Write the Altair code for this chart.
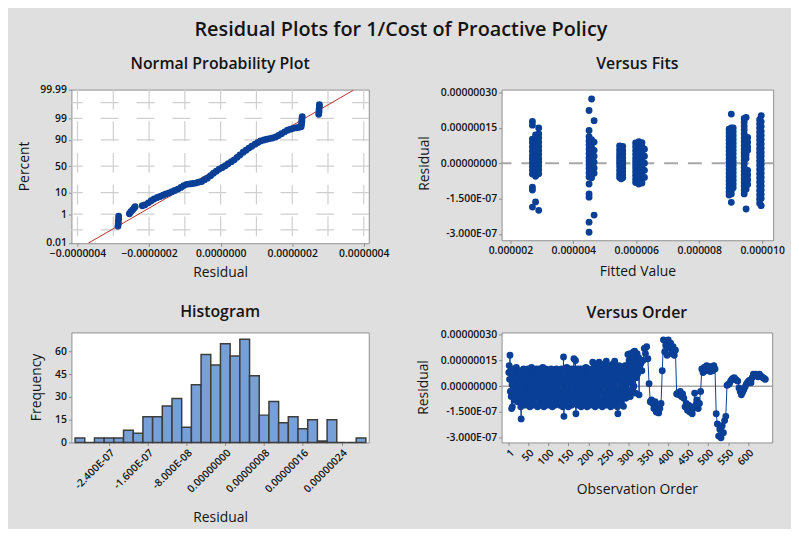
import altair as alt
import pandas as pd
from statistics import NormalDist

UNIT = 1e-7      # residuals are read in units of 1e-7
FIT_UNIT = 1e-6  # fitted values are read in units of 1e-6

BLUE = "#0a3f96"
RED = "#b8322a"
GRID = "#cfcfcf"
BG = "#dfdfdf"
FONT = "Open Sans"
TXT = "#141414"

# ---------------- Normal probability plot ----------------
npp_residual = [
    -2.87, -2.86, -2.86, -2.85, -2.85,
    -2.55, -2.51, -2.46, -2.42, -2.39,
    -2.19, -2.12,
    -2.02, -1.94, -1.86, -1.77, -1.69, -1.61, -1.53, -1.44, -1.36, -1.28,
    -1.19, -1.11, -1.03, -0.95, -0.86, -0.78, -0.70, -0.62, -0.53, -0.45,
    -0.37, -0.28, -0.20, -0.12, -0.04, 0.05, 0.13, 0.21, 0.30, 0.38,
    0.46, 0.54, 0.63, 0.71, 0.79, 0.87, 0.96, 1.04, 1.12, 1.21,
    1.29, 1.37, 1.45, 1.54, 1.62, 1.70, 1.79, 1.87, 1.95, 2.03,
    2.12, 2.20,
    2.25, 2.26, 2.27, 2.27, 2.28,
    2.74, 2.75, 2.75, 2.76, 2.76]
npp_score = [
    -2.91, -2.79, -2.67, -2.55, -2.43,
    -2.31, -2.21, -2.12, -2.04, -1.97,
    -1.92, -1.88,
    -1.78, -1.68, -1.59, -1.52, -1.47, -1.41, -1.35, -1.30, -1.24, -1.18,
    -1.11, -1.03, -0.94, -0.88, -0.86, -0.84, -0.82, -0.78, -0.74, -0.66,
    -0.58, -0.46, -0.34, -0.24, -0.14, -0.06, 0.02, 0.12, 0.22, 0.31,
    0.43, 0.55, 0.68, 0.78, 0.88, 0.97, 1.07, 1.15, 1.23, 1.27,
    1.31, 1.34, 1.37, 1.42, 1.49, 1.58, 1.67, 1.75, 1.80, 1.84,
    1.87, 1.89,
    1.92, 2.04, 2.16, 2.28, 2.40,
    2.52, 2.64, 2.76, 2.89, 2.99]
npp_fit_residual = [-3.697, 3.708]
npp_fit_score = [-3.736, 3.688]
npp_pct_ticks = [0.01, 1, 10, 50, 90, 99, 99.99]
npp_pct_labels = ["0.01", "1", "10", "50", "90", "99", "99.99"]
npp_pct_grid = [0.1, 1, 10, 50, 90, 99, 99.9]
npp_res_ticks = [-4, -2, 0, 2, 4]
npp_res_grid = [-4, -3, -2, -1, 0, 1, 2, 3, 4]

# ---------------- Versus fits ----------------
vf_fit_columns = [2.70, 2.80, 2.90,
                  4.50, 4.58, 4.66,
                  5.47, 5.52, 5.57,
                  5.98, 6.08, 6.18, 6.26,
                  8.95, 9.02, 9.08,
                  9.43, 9.49, 9.54,
                  9.92, 9.97]
vf_res_columns = [
    [1.78, 1.62, 1.02, 0.88, 0.70, 0.52, 0.34, 0.18, 0.02, -0.14, -0.30, -0.46, -1.02, -1.14, -1.86],
    [1.20, 0.95, 0.78, 0.60, 0.42, 0.25, 0.08, -0.08, -0.24, -0.40, -0.55, -1.64],
    [1.50, 1.25, 1.08, 0.90, 0.72, 0.55, 0.38, 0.20, 0.05, -0.10, -0.28, -0.45, -2.00],
    [2.24, 1.39, 1.13, 0.95, 0.78, 0.60, 0.42, 0.24, 0.10, -0.06, -0.22, -0.40, -0.58, -0.88, -1.30, -1.44, -2.50, -2.93],
    [2.73, 1.00, 0.85, 0.66, 0.50, 0.33, 0.17, 0.00, -0.15, -0.30, -0.48, -0.62],
    [1.81, 0.90, 0.55, 0.30, 0.05, -0.20, -0.42, -2.20],
    [0.74, 0.58, 0.42, 0.28, 0.14, 0.00, -0.14, -0.30, -0.46, -0.60],
    [0.70, 0.52, 0.36, 0.20, 0.06, -0.08, -0.22, -0.38, -0.52, -0.66],
    [0.72, 0.55, 0.40, 0.24, 0.10, -0.04, -0.20, -0.35, -0.50, -0.62],
    [0.86, 0.70, 0.54, 0.38, 0.22, 0.08, -0.06, -0.20, -0.36, -0.52, -0.68, -0.82],
    [0.92, 0.75, 0.60, 0.44, 0.28, 0.12, -0.02, -0.16, -0.32, -0.48, -0.64, -0.80, -0.88],
    [0.88, 0.72, 0.56, 0.40, 0.25, 0.10, -0.05, -0.20, -0.36, -0.50, -0.66, -0.84],
    [0.60, 0.30, 0.00, -0.30, -0.60],
    [1.45, 1.30, 1.15, 1.00, 0.84, 0.68, 0.52, 0.36, 0.20, 0.05, -0.10, -0.26, -0.42, -0.58, -0.74, -0.90, -1.05, -1.20, -1.35],
    [2.09, 1.50, 1.36, 1.20, 1.05, 0.90, 0.74, 0.58, 0.42, 0.27, 0.12, -0.04, -0.20, -0.36, -0.52, -0.68, -0.84, -1.00, -1.15, -1.30, -1.66],
    [1.50, 1.34, 1.18, 1.02, 0.86, 0.70, 0.55, 0.40, 0.24, 0.08, -0.08, -0.24, -0.40, -0.56, -0.72, -0.88, -1.04],
    [1.90, 1.74, 1.58, 1.42, 1.25, 1.08, 0.92, 0.76, 0.60, 0.45, 0.30, 0.14, -0.02, -0.18, -0.34, -0.50, -0.66, -0.82, -0.98, -1.14, -1.30],
    [1.95, 1.00, 0.84, 0.68, 0.52, 0.36, 0.20, -0.30, -0.46, -0.62, -0.78, -0.94, -1.10, -1.94],
    [1.10, 0.90, 0.70, 0.55, -0.30, -0.50, -0.70, -0.90],
    [1.85, 1.68, 1.50, 1.32, 1.15, 0.98, 0.80, 0.62, 0.45, 0.28, 0.10, -0.08, -0.26, -0.44, -0.62, -0.80, -0.98, -1.16, -1.34, -1.52, -1.70],
    [2.02, 1.76, 1.56, 1.36, 1.18, 1.00, 0.82, 0.64, 0.46, 0.30, 0.12, -0.06, -0.24, -0.42, -0.60, -0.78, -0.96, -1.14, -1.32, -1.50, -1.80],
]
vf_fit_ticks = [2, 4, 6, 8, 10]

# ---------------- Histogram ----------------
hist_counts = [3, 0, 3, 3, 3, 8, 6, 17, 17, 24, 29, 10, 38, 58, 51,
               65, 57, 68, 44, 18, 27, 13, 17, 9, 15, 1, 15, 0, 0, 3]
hist_first_center = -3.0e-7
hist_bin_width = 2.0e-8
hist_ticks = [-2.4e-7, -1.6e-7, -8e-8, 0.0, 8e-8, 1.6e-7, 2.4e-7]
hist_tick_labels = ["-2.400E-07", "-1.600E-07", "-8.000E-08", "0.00000000",
                    "0.00000008", "0.00000016", "0.00000024"]
hist_freq_ticks = [0, 15, 30, 45, 60]

# ---------------- Versus order ----------------
# observations 1..330, one value each
vo_dense_residual = [
    0.8, 1.2, 0.4, 1.8, -0.3, 0.9, -0.6, -1.3, 0.1, -1.2,
    0.6, -0.4, 1.0, 0.2, -0.8, 0.7, -0.1, 0.4, -0.6, 1.1,
    -0.2, 0.5, -0.9, 0.8, 0.0, -0.5, 0.9, 0.3, -0.7, 0.6,
    -1.2, -1.9, -0.3, 0.4, -1.0, 0.7, -0.5, 1.0, 0.1, -0.8,
    0.5, -1.1, 0.9, -0.2, 0.3, -0.9, 0.7, -0.4, 1.0, -1.0,
    0.2, -0.6, 0.8, -1.2, 0.5, 0.0, -0.8, 1.1, -0.3, 0.6,
    -1.0, 0.4, -0.5, 0.9, -0.1, -1.1, 0.7, 0.2, -0.7, 1.0,
    -0.4, 0.5, -1.2, 0.8, 0.1, -0.6, 1.0, -0.9, 0.3, -0.2,
    0.9, -1.1, 0.6, -0.5, 0.0, 1.1, -0.8, 0.4, -1.2, 0.7,
    -0.3, 0.2, -0.9, 1.0, -0.6, 0.5, -0.1, 0.8, -1.1, 0.3,
    0.9, -0.5, -1.0, 0.6, 0.1, -0.7, 1.0, -0.3, 0.4, -1.2,
    0.7, -0.2, 0.9, -0.8, 0.3, -1.1, 0.5, 0.0, -0.6, 1.0,
    -0.4, 0.8, -1.0, 0.2, 0.6, -0.7, 0.9, -0.3, -1.1, 0.4,
    0.7, -0.5, 1.0, -0.9, 0.1, -1.2, 0.5, 1.7, -1.75, 0.3,
    -0.6, 0.9, -1.0, 0.4, -0.2, 1.1, -0.8, 0.6, 0.0, -1.2,
    0.8, -0.4, 1.0, -0.9, 0.2, -0.6, 0.7, -1.1, 0.4, 1.0,
    -0.3, 0.6, -1.0, 1.6, 0.1, -0.7, 0.9, 1.5, -1.6, 0.3,
    -0.5, 1.0, -1.1, 0.5, -0.2, 0.8, -0.8, 0.2, 1.0, -0.6,
    0.4, -1.2, 0.7, -0.3, 1.0, -0.9, 0.1, 0.6, -0.5, 0.9,
    -1.0, 0.3, -0.7, 1.1, -0.1, 0.5, -1.2, 0.8, 0.0, -0.4,
    1.0, -0.8, 0.4, -1.1, 0.7, -0.2, 0.9, -0.6, 0.2, -1.0,
    1.4, -0.4, 0.6, -0.9, 1.2, 0.0, -1.2, 0.8, -0.5, 1.3,
    -0.2, 0.5, -1.0, 1.0, -0.7, 0.3, 1.4, -1.1, 0.7, -0.3,
    0.9, -0.8, 0.1, 1.2, -1.2, 0.5, -0.4, 1.0, -0.9, 0.3,
    1.3, -0.6, 0.6, -1.1, 1.45, 0.0, -0.8, 0.9, -0.3, 1.1,
    -1.0, 0.4, 1.2, -0.5, 0.7, -1.2, 0.2, 1.0, -0.7, 0.5,
    -0.2, 1.3, -0.9, 0.8, 0.0, 1.45, -1.1, 0.4, -0.5, 1.0,
    -0.8, 0.6, -1.2, -1.6, 0.9, -0.3, 1.2, -0.9, 0.3, 0.7,
    -0.6, 1.0, -1.0, 0.4, -0.2, 1.1, -0.7, -1.17, 0.5, 0.8,
    -0.4, 1.2, 0.1, -0.7, 1.0, 1.2, -0.2, 0.6, 1.85, 0.3,
    -0.5, 1.5, 0.4, 1.9, -0.6, 0.9, 1.3, 0.2, 1.6, -0.3,
    1.1, 0.6, 2.0, 0.0, 1.4, 2.04, 0.8, -0.4, 1.7, 0.5,
    1.2, 1.9, 0.7, 1.4, 1.0, 1.66, -0.5, 1.2, 0.9, 1.5]
# observations 331..643, every third one
vo_late_residual = [
    1.3, 0.9, 1.5, 2.2, 1.9, 2.3, 1.6,
    0.15, -0.9, -0.8, -1.0, -1.3, -0.9, -1.5, -1.2, -1.55, -1.3, -1.0,
    0.9, 2.7, 2.0, 2.4, 1.8, 2.7, 2.2, 2.5, 1.9, 2.3, 1.8, 2.1,
    -0.45, -0.4, -0.5, -0.3, -0.6, -0.45, -0.7, -1.2, -1.0, -1.4,
    -1.1, -1.5, -1.2, -1.6, -1.3, -0.4, -1.1, -0.8, -1.3, -1.0,
    -0.3, 1.0, 0.8, 1.1, 0.9, 1.2, 1.0, 1.15, 0.85, 1.1, 0.9, 1.2, 1.0,
    -1.6, -2.2, -2.9, -2.5, -3.0, -2.3, -2.7, -2.0, -1.75,
    0.05, 0.1, 0.15, 0.3, 0.4, 0.45, 0.5, 0.4, 0.35, 0.3, -0.1, -0.3, -0.5,
    -0.35, -0.2, -0.05, 0.1, 0.2, 0.3, 0.35, 0.2, 0.5, 0.7, 0.65, 0.7, 0.6,
    0.55, 0.7, 0.6, 0.55, 0.5, 0.45, 0.4]
vo_order = (list(range(1, len(vo_dense_residual) + 1))
            + list(range(331, 331 + 3 * len(vo_late_residual), 3)))
vo_residual = vo_dense_residual + vo_late_residual
vo_ticks = [1, 50, 100, 150, 200, 250, 300, 350, 400, 450, 500, 550, 600]
res_ticks = [-3e-7, -1.5e-7, 0.0, 1.5e-7, 3e-7]
res_tick_labels = ["-3.000E-07", "-1.500E-07", "0.00000000", "0.00000015", "0.00000030"]


def label_expr(values, labels, tol):
    expr = "''"
    for v, lab in reversed(list(zip(values, labels))):
        expr = f"abs(datum.value - ({v!r})) < {tol!r} ? '{lab}' : ({expr})"
    return expr


def axis(values, title, labels=None, tol=None, **kw):
    args = dict(values=values, title=title, labelFont=FONT, labelFontSize=10.5,
                labelFontWeight=600, labelColor=TXT, titleFont=FONT, titleFontSize=14,
                titleFontWeight="normal", titleColor=TXT, tickColor="#8a8a8a",
                tickSize=3, domain=False, grid=False, labelPadding=2,
                titleBaseline="alphabetic", labelFlush=False, labelOverlap=False)
    if labels is not None:
        args["labelExpr"] = label_expr(values, labels, tol)
    args.update(kw)
    return alt.Axis(**args)


def panel_title(text, offset, dy):
    return alt.TitleParams(text, font=FONT, fontSize=16, fontWeight=600, color=TXT,
                           anchor="middle", frame="group", offset=offset, dy=dy,
                           baseline="alphabetic")


def lin(domain):
    return alt.Scale(domain=domain, nice=False, zero=False)


# ---- NPP panel ----
z_ticks = [NormalDist().inv_cdf(p / 100) for p in npp_pct_ticks]
z_grid = [NormalDist().inv_cdf(p / 100) for p in npp_pct_grid]
sx = lin([-4.17e-7, 4.14e-7])
sy = lin([-3.74, 3.72])
ax_x = axis([v * UNIT for v in npp_res_ticks], "Residual", format=".7f", titleY=34)
ax_y = axis(z_ticks, "Percent", labels=npp_pct_labels, tol=1e-3, titleX=-43.5, titleY=77)
NX = alt.X("x:Q", scale=sx, axis=ax_x)
NY = alt.Y("y:Q", scale=sy, axis=ax_y)

npp_pts = pd.DataFrame({"x": [v * UNIT for v in npp_residual], "y": npp_score})
npp_fit = pd.DataFrame({"x": [v * UNIT for v in npp_fit_residual], "y": npp_fit_score})
vgrid = alt.Chart(pd.DataFrame({"x": [v * UNIT for v in npp_res_grid]})).mark_rule(
    color=GRID, strokeWidth=1.2, strokeDash=[20, 12]).encode(x=NX)
hgrid = alt.Chart(pd.DataFrame({"y": z_grid})).mark_rule(
    color=GRID, strokeWidth=1.2, strokeDash=[18, 18.25], strokeDashOffset=1.3).encode(y=NY)
fitline = alt.Chart(npp_fit).mark_line(color=RED, strokeWidth=1, clip=True).encode(x=NX, y=NY)
npp_points = alt.Chart(npp_pts).mark_circle(size=48, color=BLUE, opacity=1).encode(x=NX, y=NY)
npp = alt.layer(vgrid, hgrid, fitline, npp_points).properties(
    width=300, height=155, title=panel_title("Normal Probability Plot", 17, 17))

# ---- Versus fits panel ----
vf_rows = []
for f, col in zip(vf_fit_columns, vf_res_columns):
    for r in col:
        vf_rows.append({"x": f * FIT_UNIT, "y": r * UNIT})
vf_df = pd.DataFrame(vf_rows)
VX = alt.X("x:Q", scale=lin([1.72e-6, 1.035e-5]),
           axis=axis([v * FIT_UNIT for v in vf_fit_ticks], "Fitted Value", format=".6f", titleY=36))
VY = alt.Y("y:Q", scale=lin([-3.27e-7, 3.13e-7]),
           axis=axis(res_ticks, "Residual", labels=res_tick_labels, tol=1e-10, titleX=-74, titleY=74))
vf_zero = alt.Chart(pd.DataFrame({"y": [0.0]})).mark_rule(
    color="#a8a8a8", strokeWidth=2, strokeDash=[14, 10]).encode(y=VY)
vf_points = alt.Chart(vf_df).mark_circle(size=48, color=BLUE, opacity=1).encode(x=VX, y=VY)
vf = alt.layer(vf_zero, vf_points).properties(
    width=274, height=152, title=panel_title("Versus Fits", 18, 15))

# ---- Histogram panel ----
starts = [hist_first_center - hist_bin_width / 2 + i * hist_bin_width for i in range(len(hist_counts))]
hist_df = pd.DataFrame({"x": starts, "x2": [s + hist_bin_width for s in starts], "y": hist_counts})
HX = alt.X("x:Q", scale=lin([-3.175e-7, 2.96e-7]),
           axis=axis(hist_ticks, "Residual", labels=hist_tick_labels, tol=1e-10,
                     labelAngle=-45, labelAlign="right", labelBaseline="top", titleY=80))
HY = alt.Y("y:Q", scale=alt.Scale(domain=[0, 72.5], nice=False),
           axis=axis(hist_freq_ticks, "Frequency", titleX=-31, titleY=55))
hist = alt.Chart(hist_df).mark_rect(fill="#77a0d8", stroke="#3d3d3d", strokeWidth=1.5).encode(
    x=HX, x2="x2:Q", y=HY, y2=alt.datum(0)).properties(
    width=300, height=111, title=panel_title("Histogram", 15, 15))

# ---- Versus order panel ----
vo_df = pd.DataFrame({"x": vo_order, "y": [v * UNIT for v in vo_residual]})
OX = alt.X("x:Q", scale=lin([-17, 660]),
           axis=axis(vo_ticks, "Observation Order", labelAngle=-45, labelAlign="right",
                     labelBaseline="top", titleY=52))
OY = alt.Y("y:Q", scale=lin([-3.27e-7, 3.13e-7]),
           axis=axis(res_ticks, "Residual", labels=res_tick_labels, tol=1e-10, titleX=-75, titleY=55))
vo_zero = alt.Chart(pd.DataFrame({"y": [0.0]})).mark_rule(color="#a8a8a8", strokeWidth=1.5).encode(y=OY)
vo_line = alt.Chart(vo_df).mark_line(color=BLUE, strokeWidth=1).encode(x=OX, y=OY)
vo_pts = alt.Chart(vo_df).mark_circle(size=48, color=BLUE, opacity=1).encode(x=OX, y=OY)
vo = alt.layer(vo_zero, vo_line, vo_pts).properties(
    width=273, height=111, title=panel_title("Versus Order", 15, 19))

chart = alt.concat(
    npp, vf, hist, vo, columns=2, spacing={"row": 90, "column": 134},
    bounds="flush", align="each",
    title=alt.TitleParams("Residual Plots for 1/Cost of Proactive Policy", font=FONT,
                          fontSize=20, fontWeight=600, color=TXT, anchor="middle",
                          frame="bounds", offset=25, dy=25, baseline="alphabetic"),
).properties(
    autosize=alt.AutoSizeParams(type="none"),
    padding={"left": 64, "top": 80, "right": 726, "bottom": 441},
    background=BG,
).configure_view(stroke="#8f8f8f", fill="white")

chart.save("out.html", embed_options={"renderer": "svg", "actions": False})
